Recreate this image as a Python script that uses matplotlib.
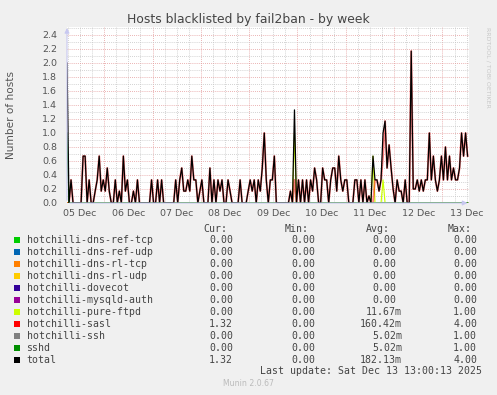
import numpy as np
import matplotlib
matplotlib.use("Agg")
import matplotlib.pyplot as plt
from matplotlib.patches import Rectangle

W, H = 497, 395

# hourly samples, hours since 05 Dec 00:00
start_hour = 5.5
sasl = [
    0, 0, 0.33, 0, 0, 0, 0, 0, 0.67, 0.67,
    0, 0.33, 0, 0, 0.17, 0.33, 0.67, 0.17, 0.33, 0.17,
    0.5, 0.17, 0, 0, 0.33, 0, 0.17, 0, 0.67, 0.17,
    0.33, 0, 0, 0.17, 0, 0.33, 0, 0, 0, 0,
    0, 0, 0.33, 0, 0, 0.33, 0, 0.33, 0, 0,
    0, 0, 0, 0, 0.33, 0, 0.33, 0.5, 0.17, 0.17,
    0.33, 0.17, 0.67, 0.33, 0.33, 0, 0.17, 0.33, 0, 0,
    0, 0.5, 0, 0.33, 0, 0.33, 0.17, 0.33, 0, 0,
    0.33, 0.17, 0, 0, 0, 0, 0.33, 0, 0, 0,
    0.17, 0.33, 0.17, 0.33, 0, 0.33, 0.17, 0.5, 1.0, 0.33,
    0, 0.33, 0.33, 0.67, 0, 0, 0, 0, 0, 0,
    0, 0.17, 0, 0.33, 0, 0.33, 0, 0.33, 0, 0.33,
    0, 0.33, 0.17, 0.5, 0.33, 0, 0, 0.5, 0.33, 0.33,
    0, 0.33, 0.5, 0.5, 0.17, 0.67, 0.33, 0.17, 0.33, 0.33,
    0, 0, 0, 0.33, 0.33, 0, 0.33, 0, 0.33, 0,
    0.1, 0, 0, 0.33, 0.33, 0.17, 0.33, 0.67, 1.17, 0.5,
    0.83, 0.5, 0.2, 0, 0.33, 0.17, 0.17, 0, 0.33, 0,
    0, 2.17, 0.2, 0.2, 0.33, 0.17, 0.33, 0.17, 0.33, 0.33,
    1.0, 0.33, 0.67, 0.33, 0.17, 0.33, 0.67, 0.33, 0.8, 0.33,
    0.67, 0.33, 0.5, 0.33, 0.33, 0.5, 1.0, 0.67, 1.0, 0.67,
]
ftpd_idx = [113, 152, 157]
ftpd_val = [1.0, 0.67, 0.33]
ssh_idx = [0]
ssh_val = [1.0]
sshd_idx = [0]
sshd_val = [1.0]

names = ["hotchilli-dns-ref-tcp", "hotchilli-dns-ref-udp", "hotchilli-dns-rl-tcp",
         "hotchilli-dns-rl-udp", "hotchilli-dovecot", "hotchilli-mysqld-auth",
         "hotchilli-pure-ftpd", "hotchilli-sasl", "hotchilli-ssh", "sshd", "total"]
colors = ["#00CC00", "#0066B3", "#FF8000", "#FFCC00", "#330099", "#990099",
          "#CCFF00", "#FF0000", "#808080", "#008F00", "#000000"]
cur = ["0.00", "0.00", "0.00", "0.00", "0.00", "0.00", "0.00", "1.32", "0.00", "0.00", "1.32"]
mins = ["0.00"] * 11
avg = ["0.00", "0.00", "0.00", "0.00", "0.00", "0.00", "11.67m", "160.42m", "5.02m", "5.02m", "182.13m"]
maxs = ["0.00", "0.00", "0.00", "0.00", "0.00", "0.00", "1.00", "4.00", "1.00", "1.00", "4.00"]
day_labels = ["05 Dec", "06 Dec", "07 Dec", "08 Dec", "09 Dec", "10 Dec", "11 Dec", "12 Dec", "13 Dec"]

n = len(sasl)
hours = start_hour + np.arange(n)
zero = np.zeros(n)
ftpd = zero.copy()
ftpd[ftpd_idx] = ftpd_val
ssh = zero.copy()
ssh[ssh_idx] = ssh_val
sshd = zero.copy()
sshd[sshd_idx] = sshd_val
sasl = np.array(sasl)
total = sasl + ftpd + ssh + sshd
series = [zero, zero, zero, zero, zero, zero, ftpd, sasl, ssh, sshd, total]
widths = [0.85] * 7 + [1.4, 0.85, 0.85, 0.9]
alphas = [1] * 7 + [0.5, 1, 1, 1]


def fx(x):
    return x / W


def fy(y):
    return 1 - y / H


fig = plt.figure(figsize=(W / 100, H / 100), dpi=100, facecolor="#F0F0F0")
x0, x1, ytop, ybot = 67, 468.6, 27, 203
ax = fig.add_axes([fx(x0), fy(ybot), (x1 - x0) / W, (ybot - ytop) / H])
ax.set_facecolor("white")
ax.set_xlim(5.5, 205)
ax.set_ylim(0, (ybot - ytop) / 70)

for s in ax.spines.values():
    s.set_visible(False)

# grid
dots = (0, (1, 1.5))
for t in range(6, 205, 6):
    if t % 24 == 0:
        ax.axvline(t, color="#E49A9A", lw=0.6, ls=dots, zorder=1)
    else:
        ax.axvline(t, color="#C4C4C4", lw=0.6, ls=dots, zorder=1)
for k in range(1, 26):
    v = k * 0.1
    if k % 2 == 0:
        ax.axhline(v, color="#E49A9A", lw=0.6, ls=dots, zorder=1)
    else:
        ax.axhline(v, color="#C4C4C4", lw=0.6, ls=dots, zorder=1)

for s, c, w, a in zip(series, colors, widths, alphas):
    ax.plot(hours, s, color=c, lw=w, alpha=a, zorder=3)

ax.set_yticks(np.arange(0, 2.41, 0.2))
ax.set_yticklabels([f"{v:.1f}" for v in np.arange(0, 2.41, 0.2)])
ax.set_xticks([12 + 24 * d for d in range(len(day_labels))])
ax.set_xticklabels(day_labels)
ax.tick_params(length=0, labelsize=6.8, colors="#555555", pad=7)
ax.tick_params(axis="x", pad=4)

# axis arrows
ax.annotate("", xy=(1.004, 0), xytext=(0, 0), xycoords="axes fraction",
            arrowprops=dict(arrowstyle="-|>", color="#C8C8F0", lw=0.8,
                            mutation_scale=7), annotation_clip=False, zorder=4)
ax.annotate("", xy=(0, 1.01), xytext=(0, 0), xycoords="axes fraction",
            arrowprops=dict(arrowstyle="-|>", color="#C8C8F0", lw=0.8,
                            mutation_scale=7), annotation_clip=False, zorder=4)

fig.text(0.5, fy(19), "Hosts blacklisted by fail2ban - by week", ha="center", va="center",
         fontsize=8.9, color="#444444")
fig.text(fx(11), fy(115), "Number of hosts", rotation=90, ha="center", va="center",
         fontsize=7.6, color="#555555")
fig.text(fx(488), fy(27), "RRDTOOL / TOBI OETIKER", rotation=270, ha="center", va="top",
         fontsize=4.5, color="#C8C8C8")

# legend
mono = "DejaVu Sans Mono"
fs = 7.1
pitch = 5.95
col_start = [197.3, 279, 360, 441.3]
headers = ["Cur:", "Min:", "Avg:", "Max:"]
for c, h in zip(col_start, headers):
    fig.text(fx(c + pitch), fy(228.5), h, family=mono, fontsize=fs, color="#444444",
             ha="left", va="center")


def put_value(c, y, s):
    s = f"{s[:-1] if s.endswith('m') else s:>6}" + ("m" if s.endswith("m") else "")
    lead = len(s) - len(s.lstrip())
    fig.text(fx(c + lead * pitch), fy(y), s.strip(), family=mono, fontsize=fs,
             color="#444444", ha="left", va="center")


for i, name in enumerate(names):
    y = 240 + 12 * i
    fig.patches.append(Rectangle((fx(14), fy(y + 2.8)), 5.6 / W, 5.6 / H,
                                 transform=fig.transFigure, facecolor=colors[i],
                                 edgecolor="none"))
    fig.text(fx(26.5), fy(y), name, family=mono, fontsize=fs, color="#444444",
             ha="left", va="center")
    for c, vals in zip(col_start, [cur, mins, avg, maxs]):
        put_value(c, y, vals[i])

fig.text(fx(482.5), fy(371.5), "Last update: Sat Dec 13 13:00:13 2025", family=mono,
         fontsize=fs, color="#444444", ha="right", va="center")
fig.text(fx(248), fy(384), "Munin 2.0.67", fontsize=5.6, color="#BBBBBB",
         ha="center", va="center")

fig.savefig("out.png", dpi=100, facecolor=fig.get_facecolor())
